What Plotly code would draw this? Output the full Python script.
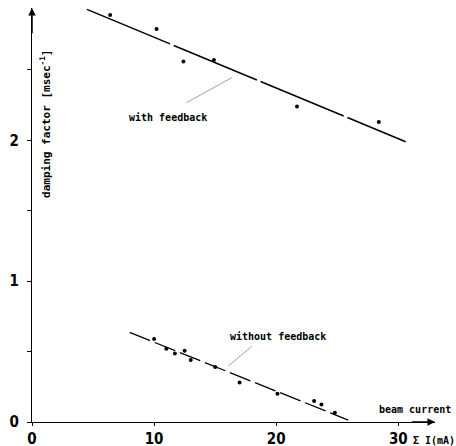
import plotly.graph_objects as go

# data
with_fb_x = [6.4, 10.2, 12.4, 14.9, 21.7, 28.4]
with_fb_y = [2.89, 2.79, 2.56, 2.57, 2.24, 2.13]
without_fb_x = [10.0, 11.0, 11.7, 12.5, 13.0, 15.0, 17.0, 20.1, 23.1, 23.7, 24.8]
without_fb_y = [0.59, 0.52, 0.487, 0.506, 0.44, 0.39, 0.28, 0.20, 0.15, 0.125, 0.066]
fit_with_x = [4.5, 30.6]
fit_with_y = [2.93, 1.99]
fit_without_x = [8.0, 25.9]
fit_without_y = [0.636, 0.014]
x_ticks = [0, 10, 20, 30]
y_ticks = [0, 0.5, 1, 1.5, 2, 2.5]
y_tick_text = ["0", " ", "1", " ", "2", " "]

num_font = dict(family="DejaVu Sans Condensed, DejaVu Sans, sans-serif", size=15,
                color="black", weight="bold")
lab_font = dict(family="DejaVu Sans Mono, monospace", size=10, color="black", weight="bold")
ylab_font = dict(family="DejaVu Sans Mono, monospace", size=11, color="black", weight="bold")

fig = go.Figure()
fig.add_trace(go.Scatter(x=fit_with_x, y=fit_with_y, mode="lines",
                         line=dict(color="black", width=1.5, dash="90px,4px"), hoverinfo="skip"))
fig.add_trace(go.Scatter(x=fit_without_x, y=fit_without_y, mode="lines",
                         line=dict(color="black", width=1.3, dash="22px,5px"), hoverinfo="skip"))
fig.add_trace(go.Scatter(x=with_fb_x, y=with_fb_y, mode="markers",
                         marker=dict(color="black", size=4)))
fig.add_trace(go.Scatter(x=without_fb_x, y=without_fb_y, mode="markers",
                         marker=dict(color="black", size=4)))

# axis arrows
fig.add_annotation(x=0, y=2.94, ax=0, ay=2.75, xref="x", yref="y", axref="x", ayref="y",
                   showarrow=True, arrowhead=2, arrowsize=1, arrowwidth=1.5, arrowcolor="black", text="")
fig.add_annotation(x=33.0, y=0, ax=31.0, ay=0, xref="x", yref="y", axref="x", ayref="y",
                   showarrow=True, arrowhead=2, arrowsize=1, arrowwidth=1.5, arrowcolor="black", text="")

# leader lines
leader_with = [(12.54, 2.262), (16.39, 2.447)]
leader_without = [(18.11, 0.546), (16.07, 0.397)]
for (x0, y0), (x1, y1) in [leader_with, leader_without]:
    fig.add_annotation(x=x1, y=y1, ax=x0, ay=y0, xref="x", yref="y", axref="x", ayref="y",
                       showarrow=True, arrowhead=0, arrowwidth=0.8, arrowcolor="#888888", text="")

fig.add_annotation(x=11.1, y=2.16, text="with feedback", showarrow=False, font=lab_font)
fig.add_annotation(x=20.15, y=0.605, text="without feedback", showarrow=False, font=lab_font)
fig.add_annotation(x=0.950, y=0.031, xref="paper", yref="paper", xanchor="center", yanchor="middle",
                   text="beam current", showarrow=False, font=lab_font)
fig.add_annotation(x=0.9975, y=-0.045, xref="paper", yref="paper", xanchor="center", yanchor="middle",
                   text="Σ I(mA)", showarrow=False, font=lab_font)
fig.add_annotation(x=1.1, y=2.12, text="damping factor [msec<sup>-1</sup>]", textangle=-90,
                   showarrow=False, font=ylab_font)

fig.update_layout(
    width=456, height=446, showlegend=False,
    paper_bgcolor="white", plot_bgcolor="white",
    margin=dict(l=32, r=21, t=8, b=24, autoexpand=False),
    xaxis=dict(range=[0, 33], tickvals=x_ticks, ticks="outside", ticklen=3, tickwidth=1,
               tickcolor="black", showgrid=False, zeroline=False, showline=True,
               linecolor="black", linewidth=1.2, tickfont=num_font, mirror=False,
               automargin=False),
    yaxis=dict(range=[0, 2.94], tickvals=y_ticks, ticktext=y_tick_text, ticks="outside",
               ticklen=4, tickwidth=1, tickcolor="black", showgrid=False, zeroline=False,
               showline=True, linecolor="black", linewidth=1.2, tickfont=num_font,
               ticklabelstandoff=5, automargin=False),
)

fig.write_html("out.html", config={"displayModeBar": False},
               post_script="document.body.style.margin='0';document.body.style.overflow='hidden';")
